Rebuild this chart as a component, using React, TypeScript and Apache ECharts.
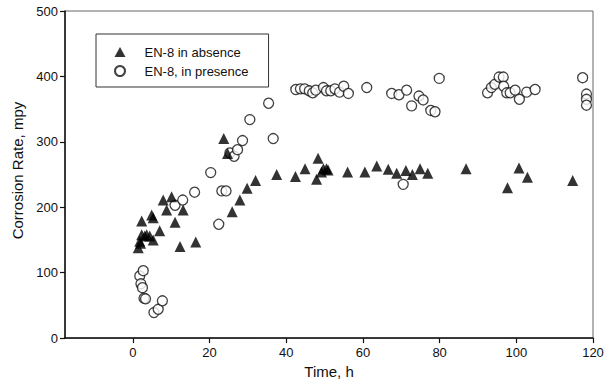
import React, { useEffect, useRef } from "react";
import * as echarts from "echarts";

const xTicks = [0, 20, 40, 60, 80, 100, 120];

const seriesNames = ["EN-8 in absence", "EN-8, in presence"];

const absence: number[][] = [
  [1.4, 138], [1.8, 148], [2.0, 145], [2.3, 158], [2.3, 179], [3.1, 156], [3.6, 158], [4.4, 156],
  [4.9, 188], [5.3, 184], [5.3, 150], [7.0, 164], [7.9, 211], [8.8, 196], [10.1, 216], [11.0, 177],
  [12.3, 140], [13.1, 196], [16.4, 147], [23.7, 305], [24.7, 282], [25.9, 193], [27.9, 211], [29.8, 229],
  [32.0, 241], [37.5, 250], [42.4, 247], [44.9, 259], [47.9, 243], [48.3, 275], [49.2, 254], [49.7, 259],
  [50.5, 259], [50.9, 257], [56.0, 254], [60.5, 254], [63.6, 263], [66.6, 258], [68.8, 252], [71.2, 256],
  [72.9, 250], [74.9, 259], [76.9, 252], [86.9, 259], [97.7, 230], [100.7, 260], [102.9, 246], [114.7, 241],
];

const presence: number[][] = [
  [1.8, 95], [2.7, 103], [2.1, 83], [2.5, 77], [2.9, 61], [3.3, 60], [5.5, 39], [6.6, 44], [7.7, 57],
  [11.0, 203], [13.0, 211], [16.1, 223], [20.3, 253], [22.4, 174], [23.2, 225], [24.3, 225], [25.3, 283],
  [26.4, 278], [27.3, 288], [28.6, 302], [30.5, 334], [35.4, 359], [36.6, 305], [42.5, 380], [43.7, 381],
  [44.8, 381], [46.0, 378], [46.9, 375], [47.7, 379], [49.7, 383], [50.5, 378], [51.6, 378], [52.7, 381],
  [53.9, 376], [55.0, 385], [56.2, 374], [61.0, 383], [67.5, 374], [69.4, 372], [71.4, 379], [72.7, 355],
  [74.6, 370], [75.7, 364], [77.7, 348], [78.8, 346], [79.9, 397], [70.5, 235], [92.5, 375], [93.5, 383],
  [94.4, 388], [95.5, 399], [96.6, 399], [96.7, 385], [97.5, 375], [98.4, 375], [99.7, 379], [100.8, 365],
  [102.7, 376], [104.9, 380], [117.3, 398], [118.3, 373], [118.3, 365], [118.3, 356],
];

const FONT = "'Liberation Sans', Arial, sans-serif";

export default function App() {
  const ref = useRef<HTMLDivElement>(null);
  useEffect(() => {
    if (!ref.current) return;
    const chart = echarts.init(ref.current, null, { renderer: "svg" });
    chart.setOption({
      animation: false,
      backgroundColor: "#fff",
      textStyle: { fontFamily: FONT },
      grid: {
        left: 65, top: 11, right: 20, bottom: 43,
        show: true, borderColor: "#666", borderWidth: 1, backgroundColor: "transparent",
      },
      legend: {
        orient: "vertical",
        left: 96, top: 34,
        padding: [11, 20, 9, 18],
        itemGap: 5,
        itemWidth: 11, itemHeight: 10,
        borderColor: "#333", borderWidth: 1,
        data: seriesNames,
        textStyle: { fontSize: 13, color: "#111", fontFamily: FONT, lineHeight: 14, padding: [0, 0, 0, 14] },
        selectedMode: false,
      },
      xAxis: {
        type: "value",
        min: -17.7, max: 120,
        name: "Time, h",
        nameLocation: "middle",
        nameGap: 24,
        nameTextStyle: { fontSize: 15, color: "#111", fontFamily: FONT },
        axisLine: { show: true, onZero: false, lineStyle: { color: "#111", width: 1.5 } },
        axisTick: { show: true, length: 5, customValues: xTicks, lineStyle: { color: "#111", width: 1.2 } },
        axisLabel: { customValues: xTicks, fontSize: 13, color: "#111", margin: 8, fontFamily: FONT },
        splitLine: { show: false },
      },
      yAxis: {
        type: "value",
        min: 0, max: 500, interval: 100,
        name: "Corrosion Rate, mpy",
        nameLocation: "middle",
        nameGap: 38,
        nameTextStyle: { fontSize: 15, color: "#111", fontFamily: FONT, padding: [0, 0, 0, 8] },
        axisLine: { show: true, onZero: false, lineStyle: { color: "#111", width: 1.5 } },
        axisTick: { show: true, length: 5, lineStyle: { color: "#111", width: 1.2 } },
        axisLabel: { fontSize: 13, color: "#111", margin: 7, fontFamily: FONT },
        splitLine: { show: false },
      },
      series: [
        {
          name: seriesNames[0],
          type: "scatter",
          symbol: "triangle",
          symbolSize: 11,
          itemStyle: { color: "#000" },
          data: absence,
          z: 3,
        },
        {
          name: seriesNames[1],
          type: "scatter",
          symbol: "circle",
          symbolSize: 10,
          itemStyle: { color: "#fff", borderColor: "#111", borderWidth: 1.3 },
          data: presence,
          z: 2,
        },
      ],
    });
    return () => chart.dispose();
  }, []);
  return <div ref={ref} style={{ width: 613, height: 384, position: "absolute", left: 0, top: 0 }} />;
}
